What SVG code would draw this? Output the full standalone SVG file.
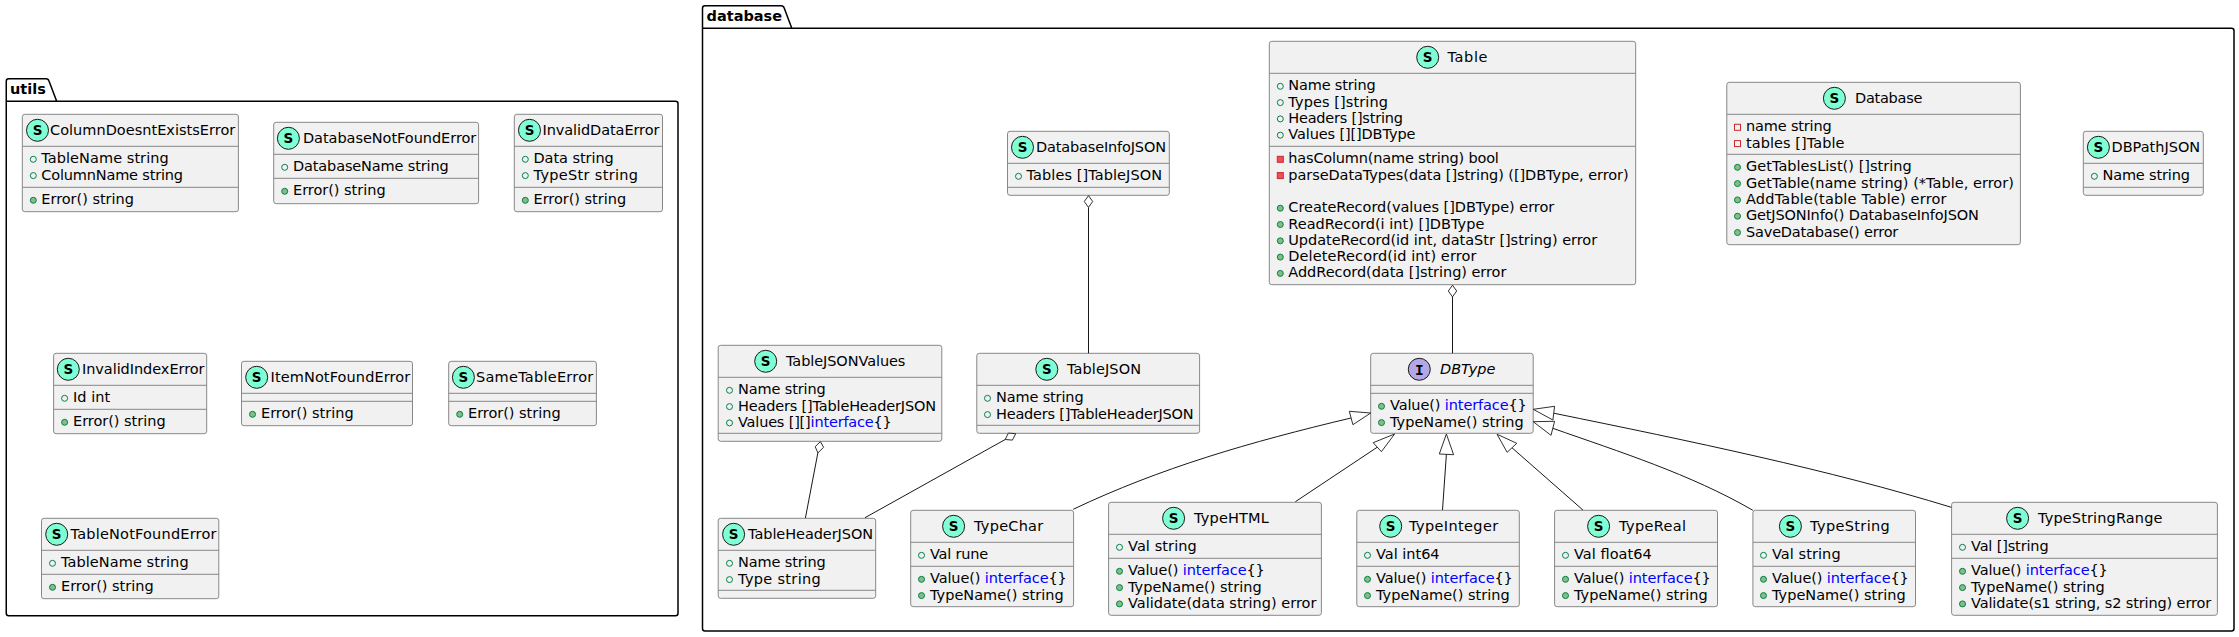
<svg xmlns="http://www.w3.org/2000/svg" width="2239" height="637" viewBox="0 0 2239 637">
<style>
text{font-family:"DejaVu Sans",sans-serif;font-size:14.5px;fill:#000}
.b{fill:#F1F1F1;stroke:#888;stroke-width:1}
.s{stroke:#888;stroke-width:1;fill:none}
.p{fill:#fff;stroke:#000;stroke-width:1.5}
.pl{font-weight:bold}
.k{fill:#0000FF}
.ic{fill:#7FFFD4;stroke:#181818;stroke-width:1}
.ii{fill:#B4A7E5;stroke:#181818;stroke-width:1}
.l{font-weight:bold;font-size:13.5px;text-anchor:middle}
.m{font-family:"DejaVu Sans Mono",monospace;font-size:14.5px}
.c{fill:none;stroke:#181818;stroke-width:1}
.d{fill:#fff;stroke:#181818;stroke-width:.9}
</style>
<defs>
<circle id="pf" r="3" fill="none" stroke="#038048"/>
<circle id="pm" r="3" fill="#84BE84" stroke="#038048"/>
<rect id="vf" x="-3" y="-3" width="6" height="6" fill="none" stroke="#C82930"/>
<rect id="vm" x="-3" y="-3" width="6" height="6" fill="#F24D5C" stroke="#C82930"/>
</defs>
<g id="pkg-utils"><path class="p" d="M6.25,101.3V81.2Q6.25,78.7 8.75,78.7H46Q48.5,78.7 49,81L56.7,101.3H675.5Q678,101.3 678,103.8V613.2Q678,615.7 675.5,615.7H8.75Q6.25,615.7 6.25,613.2V101.3H56.7"/><text class="pl" x="10" y="94.3" textLength="36">utils</text></g>
<g id="pkg-database"><path class="p" d="M702.5,28.3V8.2Q702.5,5.7 705,5.7H781Q783.6,5.7 784.2,8L791.8,28.3H2231.5Q2234,28.3 2234,30.8V628.5Q2234,631 2231.5,631H705Q702.5,631 702.5,628.5V28.3H791.8"/><text class="pl" x="706.5" y="21.3" textLength="75.6">database</text></g>

<g id="ColumnDoesntExistsError"><rect class="b" x="22.3" y="114.3" width="216.1" height="97.4" rx="2.5"/><path class="s" d="M22.3,146.3H238.4M22.3,187.3H238.4"/><circle class="ic" cx="37.5" cy="130.3" r="11"/><text class="l" x="37.5" y="135.3">S</text><text x="50" y="135.3" textLength="185.3">ColumnDoesntExistsError</text><use href="#pf" x="33.3" y="159.3"/><text x="41.3" y="163.3" textLength="127.4">TableName string</text><use href="#pf" x="33.3" y="175.6"/><text x="41.3" y="179.6" textLength="141.7">ColumnName string</text><use href="#pm" x="33.3" y="200.3"/><text x="41.3" y="204.3" textLength="92.6">Error() string</text></g>

<g id="DatabaseNotFoundError"><rect class="b" x="273.7" y="122.3" width="204.9" height="81.4" rx="2.5"/><path class="s" d="M273.7,154.3H478.6M273.7,178.3H478.6"/><circle class="ic" cx="288.4" cy="138.3" r="11"/><text class="l" x="288.4" y="143.3">S</text><text x="303" y="143.3" textLength="173.3">DatabaseNotFoundError</text><use href="#pf" x="284.7" y="167.3"/><text x="293" y="171.3" textLength="155.7">DatabaseName string</text><use href="#pm" x="284.7" y="191.3"/><text x="293" y="195.3" textLength="92.6">Error() string</text></g>

<g id="InvalidDataError"><rect class="b" x="514.3" y="114.3" width="148.2" height="97.4" rx="2.5"/><path class="s" d="M514.3,146.3H662.5M514.3,187.3H662.5"/><circle class="ic" cx="529.5" cy="130.3" r="11"/><text class="l" x="529.5" y="135.3">S</text><text x="542.5" y="135.3" textLength="116.9">InvalidDataError</text><use href="#pf" x="525.3" y="159.3"/><text x="533.5" y="163.3" textLength="80.3">Data string</text><use href="#pf" x="525.3" y="175.6"/><text x="533.5" y="179.6" textLength="104.5">TypeStr string</text><use href="#pm" x="525.3" y="200.3"/><text x="533.5" y="204.3" textLength="92.6">Error() string</text></g>

<g id="InvalidIndexError"><rect class="b" x="53.6" y="353.3" width="153.1" height="80.4" rx="2.5"/><path class="s" d="M53.6,385.3H206.7M53.6,409.3H206.7"/><circle class="ic" cx="68.3" cy="369.3" r="11"/><text class="l" x="68.3" y="374.3">S</text><text x="82" y="374.3" textLength="122.5">InvalidIndexError</text><use href="#pf" x="64.6" y="398.3"/><text x="73" y="402.3" textLength="37.3">Id int</text><use href="#pm" x="64.6" y="422.3"/><text x="73" y="426.3" textLength="92.6">Error() string</text></g>

<g id="ItemNotFoundError"><rect class="b" x="241.5" y="361.3" width="171" height="64.4" rx="2.5"/><path class="s" d="M241.5,393.3H412.5M241.5,401.3H412.5"/><circle class="ic" cx="256.7" cy="377.3" r="11"/><text class="l" x="256.7" y="382.3">S</text><text x="270.5" y="382.3" textLength="139.8">ItemNotFoundError</text><use href="#pm" x="252.5" y="414.3"/><text x="261" y="418.3" textLength="92.6">Error() string</text></g>

<g id="SameTableError"><rect class="b" x="448.7" y="361.3" width="147.7" height="64.4" rx="2.5"/><path class="s" d="M448.7,393.3H596.4M448.7,401.3H596.4"/><circle class="ic" cx="463.4" cy="377.3" r="11"/><text class="l" x="463.4" y="382.3">S</text><text x="476" y="382.3" textLength="117.3">SameTableError</text><use href="#pm" x="459.7" y="414.3"/><text x="468" y="418.3" textLength="92.6">Error() string</text></g>

<g id="TableNotFoundError"><rect class="b" x="41.5" y="518.3" width="177.3" height="80.4" rx="2.5"/><path class="s" d="M41.5,550.3H218.8M41.5,574.3H218.8"/><circle class="ic" cx="56.7" cy="534.3" r="11"/><text class="l" x="56.7" y="539.3">S</text><text x="70.5" y="539.3" textLength="146">TableNotFoundError</text><use href="#pf" x="52.5" y="563.3"/><text x="61" y="567.3" textLength="127.6">TableName string</text><use href="#pm" x="52.5" y="587.3"/><text x="61" y="591.3" textLength="92.6">Error() string</text></g>

<g id="DatabaseInfoJSON"><rect class="b" x="1007.5" y="131.3" width="161.8" height="64" rx="2.5"/><path class="s" d="M1007.5,163.3H1169.3M1007.5,187.3H1169.3"/><circle class="ic" cx="1022.5" cy="147.3" r="11"/><text class="l" x="1022.5" y="152.3">S</text><text x="1036" y="152.3" textLength="130">DatabaseInfoJSON</text><use href="#pf" x="1018.5" y="176.3"/><text x="1026.5" y="180.3" textLength="135.6">Tables []TableJSON</text></g>

<g id="Table"><rect class="b" x="1269.3" y="41.3" width="366.4" height="243.4" rx="2.5"/><path class="s" d="M1269.3,73.3H1635.7M1269.3,146.3H1635.7"/><circle class="ic" cx="1427.7" cy="57.3" r="11"/><text class="l" x="1427.7" y="62.3">S</text><text x="1447.5" y="62.3" textLength="40">Table</text>
<use href="#pf" x="1280.3" y="86.3"/><text x="1288.3" y="90.3" textLength="87.4">Name string</text><use href="#pf" x="1280.3" y="102.6"/><text x="1288.3" y="106.6" textLength="99.6">Types []string</text><use href="#pf" x="1280.3" y="118.9"/><text x="1288.3" y="122.9" textLength="114.6">Headers []string</text><use href="#pf" x="1280.3" y="135.2"/><text x="1288.3" y="139.2" textLength="127.1">Values [][]DBType</text>
<use href="#vm" x="1280.3" y="159.3"/><text x="1288.3" y="163.3" textLength="210.6">hasColumn(name string) bool</text><use href="#vm" x="1280.3" y="175.6"/><text x="1288.3" y="179.6" textLength="340.3">parseDataTypes(data []string) ([]DBType, error)</text>
<use href="#pm" x="1280.3" y="208.2"/><text x="1288.3" y="212.2" textLength="266">CreateRecord(values []DBType) error</text><use href="#pm" x="1280.3" y="224.5"/><text x="1288.3" y="228.5" textLength="196">ReadRecord(i int) []DBType</text><use href="#pm" x="1280.3" y="240.8"/><text x="1288.3" y="244.8" textLength="308.8">UpdateRecord(id int, dataStr []string) error</text><use href="#pm" x="1280.3" y="257.1"/><text x="1288.3" y="261.1" textLength="188.1">DeleteRecord(id int) error</text><use href="#pm" x="1280.3" y="273.4"/><text x="1288.3" y="277.4" textLength="218.1">AddRecord(data []string) error</text></g>

<g id="Database"><rect class="b" x="1726.8" y="82.3" width="293.6" height="162.4" rx="2.5"/><path class="s" d="M1726.8,114.3H2020.4M1726.8,154.3H2020.4"/><circle class="ic" cx="1834.4" cy="98.3" r="11"/><text class="l" x="1834.4" y="103.3">S</text><text x="1855" y="103.3" textLength="67.4">Database</text>
<use href="#vf" x="1737.5" y="127.3"/><text x="1746" y="131.3" textLength="85.7">name string</text><use href="#vf" x="1737.5" y="143.6"/><text x="1746" y="147.6" textLength="98.4">tables []Table</text>
<use href="#pm" x="1737.5" y="167.3"/><text x="1746" y="171.3" textLength="165.8">GetTablesList() []string</text><use href="#pm" x="1737.5" y="183.6"/><text x="1746" y="187.6" textLength="267.9">GetTable(name string) (*Table, error)</text><use href="#pm" x="1737.5" y="199.9"/><text x="1746" y="203.9" textLength="200.5">AddTable(table Table) error</text><use href="#pm" x="1737.5" y="216.2"/><text x="1746" y="220.2" textLength="232.8">GetJSONInfo() DatabaseInfoJSON</text><use href="#pm" x="1737.5" y="232.5"/><text x="1746" y="236.5" textLength="152.3">SaveDatabase() error</text></g>

<g id="DBPathJSON"><rect class="b" x="2083.3" y="131.3" width="120" height="64" rx="2.5"/><path class="s" d="M2083.3,163.3H2203.3M2083.3,187.3H2203.3"/><circle class="ic" cx="2098.4" cy="147.3" r="11"/><text class="l" x="2098.4" y="152.3">S</text><text x="2111.5" y="152.3" textLength="88.7">DBPathJSON</text><use href="#pf" x="2094.4" y="176.3"/><text x="2102.5" y="180.3" textLength="87.4">Name string</text></g>

<g id="TableJSONValues"><rect class="b" x="718.2" y="345.3" width="223.6" height="96" rx="2.5"/><path class="s" d="M718.2,377.3H941.8M718.2,433.3H941.8"/><circle class="ic" cx="765.7" cy="361.3" r="11"/><text class="l" x="765.7" y="366.3">S</text><text x="786" y="366.3" textLength="119.4">TableJSONValues</text><use href="#pf" x="729.5" y="390.3"/><text x="738" y="394.3" textLength="87.7">Name string</text><use href="#pf" x="729.5" y="406.6"/><text x="738" y="410.6" textLength="198.1">Headers []TableHeaderJSON</text><use href="#pf" x="729.5" y="422.9"/><text x="738" y="426.9" textLength="153.8">Values [][]<tspan class="k">interface</tspan>{}</text></g>

<g id="TableJSON"><rect class="b" x="976.8" y="353.3" width="222.8" height="80" rx="2.5"/><path class="s" d="M976.8,385.3H1199.6M976.8,425.3H1199.6"/><circle class="ic" cx="1046.8" cy="369.3" r="11"/><text class="l" x="1046.8" y="374.3">S</text><text x="1067" y="374.3" textLength="74">TableJSON</text><use href="#pf" x="987.5" y="398.3"/><text x="996" y="402.3" textLength="87.6">Name string</text><use href="#pf" x="987.5" y="414.6"/><text x="996" y="418.6" textLength="197.6">Headers []TableHeaderJSON</text></g>

<g id="TableHeaderJSON"><rect class="b" x="718.2" y="518.3" width="157.5" height="80" rx="2.5"/><path class="s" d="M718.2,550.3H875.7M718.2,590.3H875.7"/><circle class="ic" cx="733.6" cy="534.3" r="11"/><text class="l" x="733.6" y="539.3">S</text><text x="748" y="539.3" textLength="125.2">TableHeaderJSON</text><use href="#pf" x="729.5" y="563.3"/><text x="738" y="567.3" textLength="87.7">Name string</text><use href="#pf" x="729.5" y="579.6"/><text x="738" y="583.6" textLength="82.7">Type string</text></g>

<g id="TypeChar"><rect class="b" x="910.7" y="510.3" width="162.9" height="96.4" rx="2.5"/><path class="s" d="M910.7,542.3H1073.6M910.7,566.3H1073.6"/><circle class="ic" cx="953.6" cy="526.3" r="11"/><text class="l" x="953.6" y="531.3">S</text><text x="974" y="531.3" textLength="69.2">TypeChar</text><use href="#pf" x="921.5" y="555.3"/><text x="930" y="559.3" textLength="58.2">Val rune</text><use href="#pm" x="921.5" y="579.3"/><text x="930" y="583.3" textLength="136.8">Value() <tspan class="k">interface</tspan>{}</text><use href="#pm" x="921.5" y="595.6"/><text x="930" y="599.6" textLength="133.6">TypeName() string</text></g>

<g id="TypeHTML"><rect class="b" x="1108.6" y="502.3" width="212.8" height="113" rx="2.5"/><path class="s" d="M1108.6,534.3H1321.4M1108.6,558.3H1321.4"/><circle class="ic" cx="1173.6" cy="518.3" r="11"/><text class="l" x="1173.6" y="523.3">S</text><text x="1194" y="523.3" textLength="74.9">TypeHTML</text><use href="#pf" x="1119.5" y="547.3"/><text x="1128" y="551.3" textLength="68.8">Val string</text><use href="#pm" x="1119.5" y="571.3"/><text x="1128" y="575.3" textLength="136.8">Value() <tspan class="k">interface</tspan>{}</text><use href="#pm" x="1119.5" y="587.6"/><text x="1128" y="591.6" textLength="133.6">TypeName() string</text><use href="#pm" x="1119.5" y="603.9"/><text x="1128" y="607.9" textLength="188.4">Validate(data string) error</text></g>

<g id="DBType"><rect class="b" x="1370.7" y="353.3" width="162.5" height="80" rx="2.5"/><path class="s" d="M1370.7,385.3H1533.2M1370.7,393.3H1533.2"/><circle class="ii" cx="1419.3" cy="369.3" r="11"/><text class="l m" x="1419.3" y="374.5">I</text><text x="1440" y="374.3" font-style="italic" textLength="55.4">DBType</text><use href="#pm" x="1381.5" y="406.3"/><text x="1390" y="410.3" textLength="136.8">Value() <tspan class="k">interface</tspan>{}</text><use href="#pm" x="1381.5" y="422.6"/><text x="1390" y="426.6" textLength="133.6">TypeName() string</text></g>

<g id="TypeInteger"><rect class="b" x="1356.8" y="510.3" width="162.5" height="96.4" rx="2.5"/><path class="s" d="M1356.8,542.3H1519.3M1356.8,566.3H1519.3"/><circle class="ic" cx="1390.7" cy="526.3" r="11"/><text class="l" x="1390.7" y="531.3">S</text><text x="1409" y="531.3" textLength="89.2">TypeInteger</text><use href="#pf" x="1367.5" y="555.3"/><text x="1376" y="559.3" textLength="63.6">Val int64</text><use href="#pm" x="1367.5" y="579.3"/><text x="1376" y="583.3" textLength="136.8">Value() <tspan class="k">interface</tspan>{}</text><use href="#pm" x="1367.5" y="595.6"/><text x="1376" y="599.6" textLength="133.6">TypeName() string</text></g>

<g id="TypeReal"><rect class="b" x="1554.6" y="510.3" width="162.9" height="96.4" rx="2.5"/><path class="s" d="M1554.6,542.3H1717.5M1554.6,566.3H1717.5"/><circle class="ic" cx="1598.6" cy="526.3" r="11"/><text class="l" x="1598.6" y="531.3">S</text><text x="1619" y="531.3" textLength="67">TypeReal</text><use href="#pf" x="1565.5" y="555.3"/><text x="1574" y="559.3" textLength="77.8">Val float64</text><use href="#pm" x="1565.5" y="579.3"/><text x="1574" y="583.3" textLength="136.8">Value() <tspan class="k">interface</tspan>{}</text><use href="#pm" x="1565.5" y="595.6"/><text x="1574" y="599.6" textLength="133.6">TypeName() string</text></g>

<g id="TypeString"><rect class="b" x="1752.9" y="510.3" width="162.6" height="96.4" rx="2.5"/><path class="s" d="M1752.9,542.3H1915.5M1752.9,566.3H1915.5"/><circle class="ic" cx="1790.4" cy="526.3" r="11"/><text class="l" x="1790.4" y="531.3">S</text><text x="1810" y="531.3" textLength="79.8">TypeString</text><use href="#pf" x="1763.5" y="555.3"/><text x="1772" y="559.3" textLength="68.6">Val string</text><use href="#pm" x="1763.5" y="579.3"/><text x="1772" y="583.3" textLength="136.8">Value() <tspan class="k">interface</tspan>{}</text><use href="#pm" x="1763.5" y="595.6"/><text x="1772" y="599.6" textLength="133.6">TypeName() string</text></g>

<g id="TypeStringRange"><rect class="b" x="1951.6" y="502.3" width="265.8" height="113" rx="2.5"/><path class="s" d="M1951.6,534.3H2217.4M1951.6,558.3H2217.4"/><circle class="ic" cx="2017.6" cy="518.3" r="11"/><text class="l" x="2017.6" y="523.3">S</text><text x="2038" y="523.3" textLength="124.4">TypeStringRange</text><use href="#pf" x="1962.5" y="547.3"/><text x="1971" y="551.3" textLength="77.6">Val []string</text><use href="#pm" x="1962.5" y="571.3"/><text x="1971" y="575.3" textLength="136.8">Value() <tspan class="k">interface</tspan>{}</text><use href="#pm" x="1962.5" y="587.6"/><text x="1971" y="591.6" textLength="133.6">TypeName() string</text><use href="#pm" x="1962.5" y="603.9"/><text x="1971" y="607.9" textLength="240.2">Validate(s1 string, s2 string) error</text></g>

<g id="connectors">
<path class="c" d="M1088.5,207.3V353.3"/><path class="d" d="M1088.5,195.6L1092.7,201.5L1088.5,207.4L1084.3,201.5Z"/>
<path class="c" d="M1452.5,297V353.3"/><path class="d" d="M1452.5,285.2L1456.7,291L1452.5,296.9L1448.3,291Z"/>
<path class="c" d="M817.9,452.7L805.4,518"/><path class="d" d="M820.4,441.6L823.6,447.3L817.9,452.9L815.2,446.7Z"/>
<path class="c" d="M1005.2,439.5L865,517.7"/><path class="d" d="M1015.7,433.7L1012.4,440.1L1005.2,439.5L1008.4,433.1Z"/>
<path class="c" d="M1073.2,509.3C1160,468 1250,442 1351,418"/><path class="d" d="M1370.7,413L1349.3,411.3L1352.9,424.7Z"/>
<path class="c" d="M1295.4,501.7L1377.3,447.2"/><path class="d" d="M1394.6,434L1373.2,442.7L1381.4,451.7Z"/>
<path class="c" d="M1442.5,510L1446.4,454.3"/><path class="d" d="M1446.4,434L1439.3,454L1453.6,454.7Z"/>
<path class="c" d="M1582.9,510L1512,447.8"/><path class="d" d="M1497.1,434.3L1516.8,443.3L1507.1,452.3Z"/>
<path class="c" d="M1752.9,510.3C1690,474 1620,452 1552.8,428.3"/><path class="d" d="M1533.2,421.7L1554.6,421.3L1551,435.3Z"/>
<path class="c" d="M1951.3,507.3C1830,470 1690,441 1553.7,413.2"/><path class="d" d="M1533.2,409.3L1554.6,406.3L1552.9,420Z"/>
</g>
</svg>
